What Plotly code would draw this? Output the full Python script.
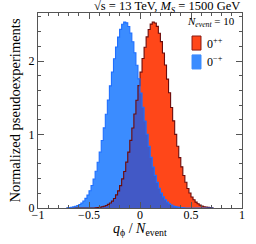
import numpy as np
import plotly.graph_objects as go

# bin edges (width 0.02) from -0.72 to 0.72 -> 72 bins
bin_edges = [round(-0.72 + 0.02 * i, 2) for i in range(73)]

# 0^{-+} (blue) histogram heights per bin
blue_vals = [0.004, 0.007, 0.010, 0.015, 0.023, 0.034, 0.048, 0.068, 0.095, 0.131,
             0.176, 0.234, 0.306, 0.394, 0.499, 0.622, 0.762, 0.918, 1.09, 1.275,
             1.467, 1.662, 1.851, 2.03, 2.19, 2.325, 2.43, 2.499, 2.529, 2.519,
             2.469, 2.381, 2.261, 2.112, 1.942, 1.757, 1.565, 1.371, 1.183, 1.004,
             0.838, 0.689, 0.558, 0.444, 0.348, 0.268, 0.203, 0.152, 0.112, 0.081,
             0.057, 0.040, 0.028, 0.019, 0.013, 0.008, 0.005, 0.003,
             0, 0, 0, 0, 0, 0, 0, 0, 0, 0, 0, 0, 0, 0]

# 0^{++} (red) histogram heights per bin
red_vals = [0, 0, 0, 0, 0, 0, 0, 0, 0, 0, 0, 0, 0, 0,
            0.003, 0.006, 0.010, 0.016, 0.023, 0.033, 0.049, 0.069, 0.094, 0.130,
            0.178, 0.233, 0.305, 0.396, 0.497, 0.624, 0.760, 0.920, 1.088, 1.278,
            1.465, 1.665, 1.848, 2.034, 2.188, 2.328, 2.428, 2.502, 2.531, 2.517,
            2.471, 2.378, 2.264, 2.109, 1.945, 1.754, 1.568, 1.368, 1.186, 1.001,
            0.840, 0.686, 0.560, 0.442, 0.350, 0.266, 0.205, 0.150, 0.113, 0.080,
            0.058, 0.039, 0.028, 0.018, 0.013, 0.008, 0.005, 0.003]

labels = ["0<sup>++</sup>", "0<sup>\u2212+</sup>"]
legend_title = "<i>N</i><sub><i>event</i></sub> = 10"
fill_colors = ["#FF4719", "#3B8CFF"]
line_colors = ["#6B0B0B", "#1F6FFF"]
box_lines = ["#8A1A10", "#3B8CFF"]
overlap_color = "#4259C6"

edges = np.array(bin_edges)
blue = np.array(blue_vals, dtype=float)
red = np.array(red_vals, dtype=float)
overlap = np.minimum(blue, red)

def step_y(v):
    return np.append(v, v[-1])

fig = go.Figure()
fig.add_trace(go.Scatter(x=edges, y=step_y(blue), mode="lines", line_shape="hv",
                         line=dict(width=0, color=fill_colors[1]), fill="tozeroy",
                         fillcolor=fill_colors[1], showlegend=False))
fig.add_trace(go.Scatter(x=edges, y=step_y(red), mode="lines", line_shape="hv",
                         line=dict(width=0, color=fill_colors[0]), fill="tozeroy",
                         fillcolor=fill_colors[0], showlegend=False))
fig.add_trace(go.Scatter(x=edges, y=step_y(overlap), mode="lines", line_shape="hv",
                         line=dict(width=0, color=overlap_color), fill="tozeroy",
                         fillcolor=overlap_color, showlegend=False))
fig.add_trace(go.Scatter(x=edges, y=step_y(red), mode="lines", line_shape="hv",
                         line=dict(width=1.1, color=line_colors[0]), showlegend=False))
fig.add_trace(go.Scatter(x=edges, y=step_y(blue), mode="lines", line_shape="hv",
                         line=dict(width=1.1, color=line_colors[1]), showlegend=False))

font_family = "Liberation Serif"
axis_col = "#555"

# manual legend (paper coordinates)
shapes = []
annotations = []
box_x0, box_x1 = 0.755, 0.799
box_tops = [0.882, 0.785]
box_h = 0.072
label_ys = [0.846, 0.749]
for i in range(2):
    shapes.append(dict(type="rect", xref="paper", yref="paper",
                       x0=box_x0, x1=box_x1, y0=box_tops[i] - box_h, y1=box_tops[i],
                       fillcolor=fill_colors[i], line=dict(color=box_lines[i], width=1)))
    annotations.append(dict(text=labels[i], x=0.82, y=label_ys[i], xref="paper",
                            yref="paper", xanchor="left", yanchor="middle",
                            showarrow=False, font=dict(size=12, family=font_family)))
annotations.append(dict(text=legend_title, x=0.975, y=0.955, xref="paper", yref="paper",
                        xanchor="right", yanchor="middle", showarrow=False,
                        font=dict(size=11, family=font_family)))
annotations.append(dict(text="\u221as = 13 TeV, <i>M</i><sub><i>S</i></sub> = 1500 GeV",
                        x=1, y=1, xref="paper", yref="paper", xanchor="right",
                        yanchor="bottom", showarrow=False, yshift=-4,
                        font=dict(size=12.5, family=font_family)))
annotations.append(dict(text="<i>q</i><sub>\u03d5</sub> / <i>N</i><sub>event</sub>",
                        x=0.5, y=-0.112, xref="paper", yref="paper", xanchor="center",
                        yanchor="middle", showarrow=False,
                        font=dict(size=14, family=font_family)))

fig.update_layout(
    width=256, height=244,
    margin=dict(l=38, r=14, t=13, b=36),
    paper_bgcolor="white", plot_bgcolor="white",
    font=dict(family=font_family, size=12, color="black"),
    showlegend=False,
    shapes=shapes,
    annotations=annotations,
    xaxis=dict(range=[-1, 1], tickvals=[-1, -0.5, 0, 0.5, 1],
               ticktext=["\u22121", "\u22120.5", "0", "0.5", "1"],
               ticks="inside", ticklen=6, tickcolor=axis_col, showline=True,
               linecolor=axis_col, linewidth=1, mirror="ticks", showgrid=False,
               zeroline=False, ticklabelstandoff=-4, automargin=False,
               minor=dict(dtick=0.1, ticks="inside", ticklen=3, tickcolor=axis_col),
               tickfont=dict(size=12)),
    yaxis=dict(range=[0, 2.653], tickvals=[0, 1, 2],
               ticks="inside", ticklen=6, tickcolor=axis_col, showline=True,
               linecolor=axis_col, linewidth=1, mirror="ticks", showgrid=False,
               zeroline=False, automargin=False,
               minor=dict(dtick=0.2, ticks="inside", ticklen=3, tickcolor=axis_col),
               tickfont=dict(size=12),
               title=dict(text="Normalized pseudoexperiments", font=dict(size=14.5),
                          standoff=4)),
)

fig.write_html("out.html", config={"displayModeBar": False},
               post_script="document.body.style.margin='0';")
